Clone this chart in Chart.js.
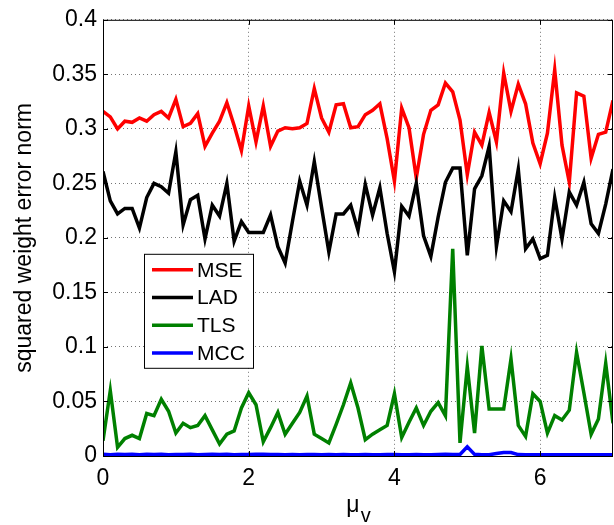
<!DOCTYPE html>
<html>
<head>
<meta charset="utf-8">
<script src="https://cdn.jsdelivr.net/npm/chart.js@4.4.0/dist/chart.umd.min.js"></script>
<style>
  html, body { margin: 0; padding: 0; background: #fff; }
  #wrap { width: 614px; height: 525px; }
</style>
</head>
<body>
<div id="wrap"><canvas id="errChart" width="614" height="525"></canvas></div>
<script>
/* ===== data ===== */
const muV = [0, 0.1, 0.2, 0.3, 0.4, 0.5, 0.6, 0.7, 0.8, 0.9,
  1, 1.1, 1.2, 1.3, 1.4, 1.5, 1.6, 1.7, 1.8, 1.9,
  2, 2.1, 2.2, 2.3, 2.4, 2.5, 2.6, 2.7, 2.8, 2.9,
  3, 3.1, 3.2, 3.3, 3.4, 3.5, 3.6, 3.7, 3.8, 3.9,
  4, 4.1, 4.2, 4.3, 4.4, 4.5, 4.6, 4.7, 4.8, 4.9,
  5, 5.1, 5.2, 5.3, 5.4, 5.5, 5.6, 5.7, 5.8, 5.9,
  6, 6.1, 6.2, 6.3, 6.4, 6.5, 6.6, 6.7, 6.8, 6.9,
  7];

const mse = [0.316, 0.311, 0.300, 0.307, 0.306, 0.310, 0.307, 0.313, 0.316, 0.310,
  0.327, 0.302, 0.305, 0.314, 0.284, 0.296, 0.307, 0.324, 0.303, 0.280,
  0.321, 0.288, 0.321, 0.284, 0.298, 0.301, 0.300, 0.301, 0.305, 0.337,
  0.310, 0.297, 0.322, 0.323, 0.301, 0.302, 0.313, 0.317, 0.323, 0.291,
  0.252, 0.319, 0.301, 0.255, 0.295, 0.317, 0.322, 0.342, 0.334, 0.308,
  0.258, 0.297, 0.285, 0.315, 0.288, 0.351, 0.316, 0.341, 0.323, 0.287,
  0.268, 0.296, 0.354, 0.285, 0.251, 0.333, 0.330, 0.273, 0.295, 0.297,
  0.326];

const lad = [0.261, 0.234, 0.222, 0.227, 0.227, 0.209, 0.237, 0.250, 0.247, 0.241,
  0.279, 0.212, 0.235, 0.239, 0.199, 0.230, 0.220, 0.250, 0.197, 0.215,
  0.205, 0.205, 0.205, 0.221, 0.192, 0.177, 0.215, 0.252, 0.230, 0.270,
  0.228, 0.187, 0.222, 0.222, 0.230, 0.207, 0.249, 0.221, 0.246, 0.204,
  0.169, 0.229, 0.220, 0.250, 0.202, 0.183, 0.219, 0.251, 0.264, 0.264,
  0.184, 0.245, 0.257, 0.284, 0.192, 0.234, 0.224, 0.263, 0.190, 0.199,
  0.181, 0.184, 0.237, 0.199, 0.242, 0.230, 0.251, 0.213, 0.204, 0.231,
  0.263];

const tls = [0.014, 0.060, 0.008, 0.016, 0.019, 0.016, 0.039, 0.037, 0.052, 0.041,
  0.021, 0.030, 0.026, 0.028, 0.037, 0.024, 0.011, 0.020, 0.023, 0.044,
  0.058, 0.047, 0.013, 0.026, 0.040, 0.020, 0.030, 0.040, 0.055, 0.020,
  0.016, 0.012, 0.029, 0.047, 0.067, 0.044, 0.015, 0.020, 0.024, 0.028,
  0.057, 0.017, 0.031, 0.044, 0.028, 0.041, 0.049, 0.037, 0.190, 0.012,
  0.082, 0.021, 0.101, 0.043, 0.043, 0.043, 0.089, 0.028, 0.018, 0.057,
  0.050, 0.021, 0.037, 0.033, 0.042, 0.095, 0.058, 0.020, 0.034, 0.085,
  0.030];

const mcc = [0.0015, 0.0012, 0.0016, 0.0013, 0.0017, 0.0012, 0.0015, 0.0013, 0.0016, 0.0012,
  0.0014, 0.0013, 0.0015, 0.0012, 0.0014, 0.0016, 0.0013, 0.0015, 0.0012, 0.0014,
  0.0013, 0.0015, 0.0017, 0.0014, 0.0013, 0.0012, 0.0013, 0.0012, 0.0013, 0.0014,
  0.0012, 0.0013, 0.0012, 0.0013, 0.0012, 0.0012, 0.0013, 0.0012, 0.0012, 0.0014,
  0.0013, 0.0012, 0.0012, 0.0013, 0.0012, 0.0012, 0.0014, 0.0016, 0.0013, 0.0014,
  0.0085, 0.0015, 0.0012, 0.0012, 0.0022, 0.0033, 0.0032, 0.0013, 0.0012, 0.0012,
  0.0012, 0.0012, 0.0012, 0.0012, 0.0012, 0.0012, 0.0012, 0.0012, 0.0012, 0.0012,
  0.0012];

const seriesNames = ['MSE', 'LAD', 'TLS', 'MCC'];
const seriesColors = ['#ff0000', '#000000', '#008000', '#0000ff'];
const xTickValues = [0, 2, 4, 6];
const yLabel = 'squared weight error norm';

const FONT = 'Liberation Sans, Arial, Helvetica, sans-serif';

function toPoints(ys) {
  return ys.map((y, i) => ({ x: muV[i], y: y }));
}

/* frame with inward ticks, like a MATLAB box */
const framePlugin = {
  id: 'frame',
  afterDraw(chart) {
    const { ctx, chartArea: a, scales } = chart;
    ctx.save();
    ctx.strokeStyle = '#000';
    ctx.lineWidth = 1;
    ctx.strokeRect(a.left + 0.5, a.top + 0.5, a.right - a.left - 1, a.bottom - a.top);
    ctx.beginPath();
    scales.x.ticks.forEach(t => {
      const px = Math.round(scales.x.getPixelForValue(t.value)) + 0.5;
      ctx.moveTo(px, a.bottom); ctx.lineTo(px, a.bottom - 5);
      ctx.moveTo(px, a.top); ctx.lineTo(px, a.top + 5);
    });
    scales.y.ticks.forEach(t => {
      const py = Math.round(scales.y.getPixelForValue(t.value)) + 0.5;
      ctx.moveTo(a.left, py); ctx.lineTo(a.left + 5, py);
      ctx.moveTo(a.right, py); ctx.lineTo(a.right - 5, py);
    });
    ctx.stroke();

    // x axis title: mu with subscript v
    ctx.fillStyle = '#000';
    ctx.textBaseline = 'alphabetic';
    ctx.textAlign = 'left';
    ctx.font = '23px ' + FONT;
    const cx = (a.left + a.right) / 2;
    const muW = ctx.measureText('μ').width;
    ctx.font = '20px ' + FONT;
    const vW = ctx.measureText('v').width;
    const x0 = cx - (muW + vW) / 2;
    ctx.font = '23px ' + FONT;
    ctx.fillText('μ', x0, 512);
    ctx.font = '20px ' + FONT;
    ctx.fillText('v', x0 + muW + 1, 522);
    ctx.restore();
  }
};

/* legend box inside the plot */
const boxLegend = {
  id: 'boxLegend',
  afterDraw(chart) {
    const { ctx, chartArea: a } = chart;
    const left = a.left + 41, top = a.top + 234, w = 109, h = 114;
    ctx.save();
    ctx.fillStyle = '#fff';
    ctx.fillRect(left, top, w, h);
    ctx.strokeStyle = '#000';
    ctx.lineWidth = 1;
    ctx.strokeRect(left + 0.5, top + 0.5, w, h);
    ctx.font = '21px ' + FONT;
    ctx.textBaseline = 'middle';
    ctx.textAlign = 'left';
    chart.data.datasets.forEach((ds, i) => {
      const y = top + 16 + i * 27.7;
      ctx.strokeStyle = ds.borderColor;
      ctx.lineWidth = 3.5;
      ctx.beginPath();
      ctx.moveTo(left + 8, y);
      ctx.lineTo(left + 49, y);
      ctx.stroke();
      ctx.fillStyle = '#000';
      ctx.fillText(ds.label, left + 53, y + 1);
    });
    ctx.restore();
  }
};

const allSeries = [mse, lad, tls, mcc];

new Chart(document.getElementById('errChart').getContext('2d'), {
  type: 'line',
  data: {
    datasets: allSeries.map((ys, i) => ({
      label: seriesNames[i],
      data: toPoints(ys),
      borderColor: seriesColors[i],
      backgroundColor: seriesColors[i],
      borderWidth: 3.5,
      pointRadius: 0,
      tension: 0,
      fill: false,
      order: 4 - i
    }))
  },
  options: {
    responsive: false,
    animation: false,
    devicePixelRatio: 1,
    layout: { padding: { top: 13, right: 1, left: 0, bottom: 0 } },
    plugins: { legend: { display: false }, tooltip: { enabled: false } },
    scales: {
      x: {
        type: 'linear',
        min: 0,
        max: 7,
        afterBuildTicks: s => { s.ticks = xTickValues.map(v => ({ value: v })); },
        afterFit: s => { s.height = 69; },
        ticks: {
          color: '#000',
          font: { family: FONT, size: 23 },
          padding: 9,
          maxRotation: 0,
          autoSkip: false,
          callback: v => String(v)
        },
        grid: { color: 'rgba(0,0,0,0.55)', lineWidth: 1, drawTicks: false },
        border: { display: false, dash: [1, 3] }
      },
      y: {
        min: 0,
        max: 0.4,
        afterFit: s => { s.width = 103; },
        ticks: {
          stepSize: 0.05,
          color: '#000',
          font: { family: FONT, size: 23 },
          padding: 6,
          callback: v => String(+v.toFixed(2))
        },
        grid: { color: 'rgba(0,0,0,0.55)', lineWidth: 1, drawTicks: false },
        border: { display: false, dash: [1, 3] },
        title: {
          display: true,
          text: yLabel,
          color: '#000',
          font: { family: FONT, size: 23 },
          padding: { top: 11, bottom: 0 }
        }
      }
    }
  },
  plugins: [framePlugin, boxLegend]
});
</script>
</body>
</html>
